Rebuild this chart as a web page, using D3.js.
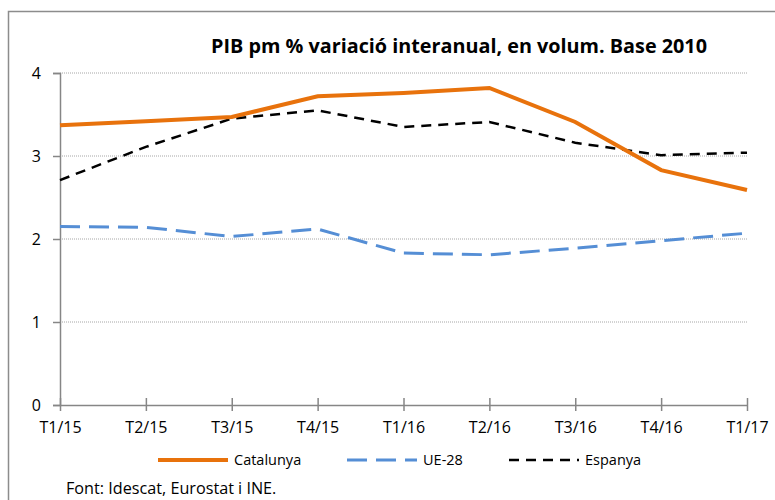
<!DOCTYPE html>
<html>
<head>
<meta charset="utf-8">
<script src="https://cdn.jsdelivr.net/npm/d3@7"></script>
<style>
  body { margin: 0; background: #fff; }
  svg { font-family: 'Open Sans', sans-serif; }
</style>
</head>
<body>
<div id="chart"></div>
<script>
const quarters = ['T1/15', 'T2/15', 'T3/15', 'T4/15', 'T1/16', 'T2/16', 'T3/16', 'T4/16', 'T1/17'];
const catalunya = [3.37, 3.42, 3.47, 3.72, 3.76, 3.82, 3.41, 2.83, 2.59];
const ue28 = [2.15, 2.14, 2.03, 2.12, 1.83, 1.81, 1.89, 1.98, 2.07];
const espanya = [2.71, 3.11, 3.45, 3.55, 3.35, 3.41, 3.16, 3.01, 3.04];
const yTicks = [0, 1, 2, 3, 4];

const series = [
  { name: 'Catalunya', values: catalunya, color: '#e8720c', width: 4, dash: null },
  { name: 'UE-28', values: ue28, color: '#558ed5', width: 3, dash: '20,9' },
  { name: 'Espanya', values: espanya, color: '#000', width: 2.5, dash: '10,7' },
];

const W = 775, H = 500;
const margin = { left: 60, right: 28, top: 73, bottom: 95 };

const svg = d3.select('#chart').append('svg')
  .attr('width', W)
  .attr('height', H);

// outer frame (runs off right and bottom edges)
svg.append('rect')
  .attr('x', 8.5).attr('y', 11.5)
  .attr('width', W + 20).attr('height', H + 20)
  .attr('fill', 'none')
  .attr('stroke', '#8c8c8c')
  .attr('stroke-width', 1.5);

const x = d3.scalePoint()
  .domain(quarters)
  .range([margin.left, W - margin.right]);

const y = d3.scaleLinear()
  .domain([0, 4])
  .range([H - margin.bottom, margin.top]);

// gridlines
svg.append('g')
  .selectAll('line')
  .data(yTicks.filter((d) => d > 0))
  .enter()
  .append('line')
  .attr('x1', margin.left)
  .attr('x2', W - margin.right)
  .attr('y1', (d) => y(d))
  .attr('y2', (d) => y(d))
  .attr('stroke', '#a6a6a6')
  .attr('stroke-width', 1)
  .attr('stroke-dasharray', '1,1');

// y axis
const yAxis = svg.append('g')
  .attr('transform', `translate(${margin.left},0)`)
  .call(d3.axisLeft(y).tickValues(yTicks).tickSize(7).tickPadding(12).tickFormat(d3.format('d')));
yAxis.select('.domain').attr('stroke', '#868686').attr('stroke-width', 1.5);
yAxis.selectAll('.tick line').attr('stroke', '#868686').attr('stroke-width', 1.5);
yAxis.selectAll('.tick text').attr('font-size', '16px').attr('fill', '#000').attr('font-family', 'Open Sans');

// x axis
const xAxis = svg.append('g')
  .attr('transform', `translate(0,${y(0)})`)
  .call(d3.axisBottom(x).tickSizeInner(6).tickSizeOuter(0).tickPadding(11));
xAxis.select('.domain').attr('stroke', '#868686').attr('stroke-width', 1.5);
xAxis.selectAll('.tick line')
  .attr('y1', -7)
  .attr('stroke', '#868686').attr('stroke-width', 1.5);
xAxis.selectAll('.tick text').attr('font-size', '16px').attr('fill', '#000').attr('font-family', 'Open Sans');

// lines
const line = d3.line()
  .x((d, i) => x(quarters[i]))
  .y((d) => y(d));

svg.append('g')
  .selectAll('path')
  .data([series[1], series[2], series[0]])
  .enter()
  .append('path')
  .attr('d', (d) => line(d.values))
  .attr('fill', 'none')
  .attr('stroke', (d) => d.color)
  .attr('stroke-width', (d) => d.width)
  .attr('stroke-dasharray', (d) => d.dash);

// title
svg.append('text')
  .attr('x', 459)
  .attr('y', 53)
  .attr('text-anchor', 'middle')
  .attr('font-size', '19.8px')
  .attr('font-weight', 'bold')
  .text('PIB pm % variació interanual, en volum. Base 2010');

// legend
const legendX = [158, 347, 509];
const legendItem = svg.append('g')
  .selectAll('g')
  .data(series)
  .enter()
  .append('g')
  .attr('transform', (d, i) => `translate(${legendX[i]},460)`);

legendItem.append('line')
  .attr('x1', 0).attr('x2', 70)
  .attr('stroke', (d) => d.color)
  .attr('stroke-width', (d) => d.width)
  .attr('stroke-dasharray', (d) => d.dash);

legendItem.append('text')
  .attr('x', 76)
  .attr('y', 5)
  .attr('font-size', '14.5px')
  .text((d) => d.name);

// source
svg.append('text')
  .attr('x', 66)
  .attr('y', 494)
  .attr('font-size', '16.2px')
  .text('Font: Idescat, Eurostat i INE.');
</script>
</body>
</html>
